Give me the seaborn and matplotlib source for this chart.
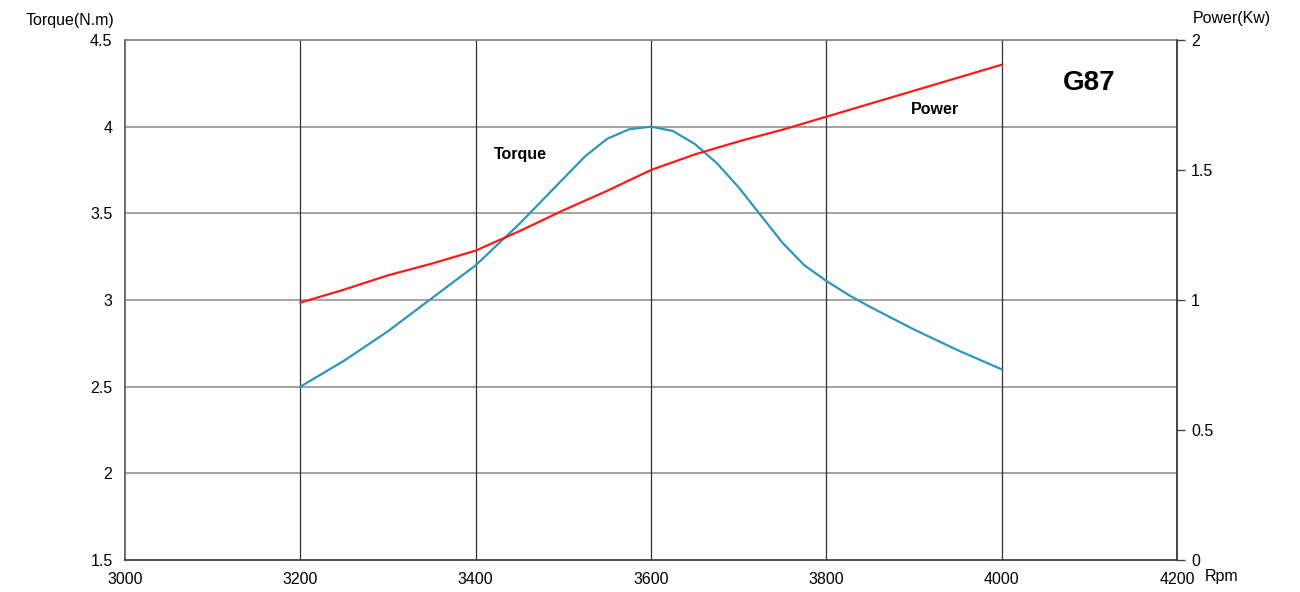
import seaborn as sns
import matplotlib.pyplot as plt

torque_rpm = [3200, 3250, 3300, 3350, 3400, 3425, 3450, 3475, 3500, 3525,
              3550, 3575, 3600, 3625, 3650, 3675, 3700, 3725, 3750, 3775,
              3800, 3825, 3850, 3900, 3950, 4000]
torque = [2.5, 2.65, 2.82, 3.01, 3.2, 3.32, 3.44, 3.57, 3.70, 3.83,
          3.93, 3.985, 4.0, 3.975, 3.9, 3.79, 3.65, 3.49, 3.33, 3.2,
          3.11, 3.03, 2.96, 2.83, 2.71, 2.6]

power_rpm = [3200, 3250, 3300, 3350, 3400, 3450, 3500, 3550, 3600,
             3650, 3700, 3750, 3800, 3850, 3900, 3950, 4000]
power = [0.99, 1.04, 1.095, 1.14, 1.19, 1.265, 1.345, 1.42, 1.5,
         1.56, 1.61, 1.655, 1.705, 1.755, 1.805, 1.855, 1.905]

x_ticks = [3000, 3200, 3400, 3600, 3800, 4000, 4200]
torque_ticks = [1.5, 2, 2.5, 3, 3.5, 4, 4.5]
power_ticks = [0, 0.5, 1, 1.5, 2]

sns.set_style('white')
plt.rcParams['font.family'] = ['Liberation Sans', 'DejaVu Sans']
plt.rcParams['text.color'] = 'black'
plt.rcParams['xtick.color'] = 'black'
plt.rcParams['ytick.color'] = 'black'

fig = plt.figure(figsize=(13, 5.92), dpi=100)
ax = fig.add_axes([125 / 1300, 32 / 592, 1052 / 1300, 520 / 592])

sns.lineplot(x=torque_rpm, y=torque, color='#2c97b9', linewidth=1.6, ax=ax)
ax.set_xlim(3000, 4200)
ax.set_ylim(1.5, 4.5)
ax.set_xticks(x_ticks)
ax.set_xticklabels([str(v) for v in x_ticks], fontsize=11.5)
ax.set_yticks(torque_ticks)
ax.set_yticklabels([f'{v:g}' for v in torque_ticks], fontsize=11.5)
ax.tick_params(axis='x', length=0, pad=9)
ax.tick_params(axis='y', length=0, pad=9)

# grid: horizontal gray, vertical dark
for v in torque_ticks[1:-1]:
    ax.axhline(v, color='#8a8a8a', linewidth=1.1, zorder=0)
for v in x_ticks[1:-1]:
    ax.axvline(v, color='#333333', linewidth=0.9, zorder=0)

for side, c in [('left', '#555555'), ('bottom', '#333333'),
                ('top', '#777777'), ('right', '#444444')]:
    ax.spines[side].set_color(c)
    ax.spines[side].set_linewidth(1.2)

ax2 = ax.twinx()
sns.lineplot(x=power_rpm, y=power, color='#ff1a1a', linewidth=1.6, ax=ax2)
ax2.set_ylim(0, 2)
ax2.set_yticks(power_ticks)
ax2.set_yticklabels([f'{v:g}' for v in power_ticks], fontsize=11.5)
ax2.tick_params(axis='y', length=6, width=1, color='#444444', pad=4)
for side in ['left', 'bottom', 'top']:
    ax2.spines[side].set_visible(False)
ax2.spines['right'].set_color('#444444')
ax2.spines['right'].set_linewidth(1.2)

fig.text(26 / 1300, 1 - 20 / 592, 'Torque(N.m)', fontsize=11.5, va='center')
fig.text(1193 / 1300, 1 - 19 / 592, 'Power(Kw)', fontsize=11.5, va='center')
fig.text(1205 / 1300, 1 - 577 / 592, 'Rpm', fontsize=11.5, va='center')
ax.text(3451, 3.84, 'Torque', fontsize=11.5, fontweight='bold',
        ha='center', va='center')
ax.text(3924, 4.1, 'Power', fontsize=11.5, fontweight='bold',
        ha='center', va='center')
ax.text(4100, 4.25, 'G87', fontsize=20, fontweight='bold',
        ha='center', va='center')

fig.savefig('out.png', dpi=100)
